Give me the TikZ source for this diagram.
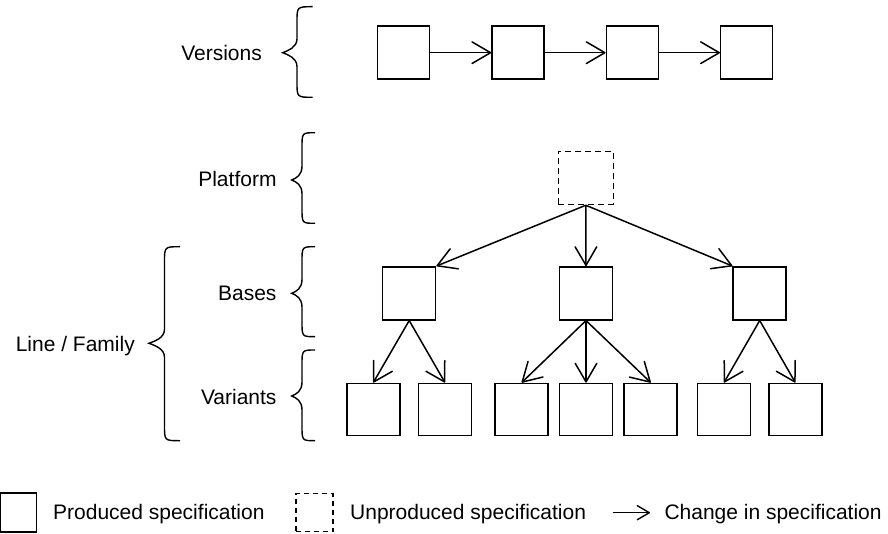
\documentclass[tikz,border=0pt]{standalone}
\usepackage{fontspec}
\setmainfont{Liberation Sans}
\usetikzlibrary{arrows.meta}
\newcommand\mybrc[6]{%
  \draw[brc] (#3,#4) .. controls (#2,#4) .. (#2,#4+15) -- (#2,#5-14)
    .. controls (#2,#5-5) and (#1+5,#5-2) .. (#1,#5)
    .. controls (#1+5,#5+2) and (#2,#5+5) .. (#2,#5+14) -- (#2,#6-15)
    .. controls (#2,#6) .. (#3,#6);}
\pgfdeclarearrow{
  name = bigvee,
  setup code = {
    \pgfarrowssettipend{0.7pt}
    \pgfarrowssetlineend{-0.5pt}
    \pgfarrowssetbackend{-18.5pt}
    \pgfarrowsupperhullpoint{-18.5pt}{10.8pt}
    \pgfarrowsupperhullpoint{0.7pt}{0pt}
  },
  drawing code = {
    \pgfsetdash{}{0pt}
    \pgfsetlinewidth{1.5pt}
    \pgfsetroundjoin
    \pgfsetroundcap
    \pgfpathmoveto{\pgfpoint{-18.5pt}{10.8pt}}
    \pgfpathlineto{\pgfpointorigin}
    \pgfpathlineto{\pgfpoint{-18.5pt}{-10.8pt}}
    \pgfusepathqstroke
  }
}
\pgfdeclarearrow{
  name = smallvee,
  setup code = {
    \pgfarrowssettipend{0.7pt}
    \pgfarrowssetlineend{-0.5pt}
    \pgfarrowssetbackend{-12pt}
    \pgfarrowsupperhullpoint{-12pt}{7pt}
    \pgfarrowsupperhullpoint{0.7pt}{0pt}
  },
  drawing code = {
    \pgfsetdash{}{0pt}
    \pgfsetlinewidth{1.4pt}
    \pgfsetroundjoin
    \pgfsetroundcap
    \pgfpathmoveto{\pgfpoint{-12pt}{7pt}}
    \pgfpathlineto{\pgfpointorigin}
    \pgfpathlineto{\pgfpoint{-12pt}{-7pt}}
    \pgfusepathqstroke
  }
}
\begin{document}
\begin{tikzpicture}[x=1pt,y=-1pt,
  spec/.style={draw, line width=1.5pt, minimum width=53pt, minimum height=53pt, inner sep=0pt},
  unspec/.style={spec, dash pattern=on 6pt off 4pt},
  chg/.style={line width=1.5pt, -bigvee},
  legchg/.style={line width=1.4pt, -smallvee},
  lbl/.style={inner sep=0pt, anchor=base east, font=\fontsize{21}{25}\selectfont},
  leg/.style={inner sep=0pt, anchor=base west, font=\fontsize{21}{25}\selectfont},
  brc/.style={line width=1.4pt}]
\useasboundingbox (0,0) rectangle (888,534);

% Versions
\node[spec, minimum width=52pt] (ve1) at (403.3,52.7) {};
\node[spec, minimum width=52pt] (ve2) at (518,52.7) {};
\node[spec, minimum width=52pt] (ve3) at (632.3,52.7) {};
\node[spec, minimum width=52pt] (ve4) at (746.7,52.7) {};
\draw[chg] (ve1.east) -- (ve2.west);
\draw[chg] (ve2.east) -- (ve3.west);
\draw[chg] (ve3.east) -- (ve4.west);

% Platform
\node[unspec, minimum width=55pt] (pf) at (585.8,178) {};

% Bases
\node[spec] (b1) at (409.2,293.3) {};
\node[spec] (b2) at (586,293.3) {};
\node[spec] (b3) at (759.7,293.3) {};
\draw[chg] (pf.south) -- (b1.north east);
\draw[chg] (pf.south) -- (b2.north);
\draw[chg] (pf.south) -- (b3.north west);

% Variants
\node[spec, minimum height=52pt] (v1) at (373.3,409.3) {};
\node[spec, minimum height=52pt] (v2) at (445,409.3) {};
\node[spec, minimum height=52pt] (v3) at (521.7,409.3) {};
\node[spec, minimum height=52pt] (v4) at (586,409.3) {};
\node[spec, minimum height=52pt] (v5) at (650.7,409.3) {};
\node[spec, minimum height=52pt] (v6) at (724,409.3) {};
\node[spec, minimum height=52pt] (v7) at (795.3,409.3) {};
\draw[chg] (b1.south) -- (v1.north);
\draw[chg] (b1.south) -- (v2.north);
\draw[chg] (b2.south) -- (v3.north);
\draw[chg] (b2.south) -- (v4.north);
\draw[chg] (b2.south) -- (v5.north);
\draw[chg] (b3.south) -- (v6.north);
\draw[chg] (b3.south) -- (v7.north);

% Labels and braces
\node[lbl] (lver) at (262,61) {Versions};
\node[lbl] (lpf) at (276.7,186.7) {Platform};
\node[lbl] (lbs) at (276.7,301) {Bases};
\node[lbl] (lvar) at (276.7,404) {Variants};
\node[lbl] (lfam) at (135,351) {Line / Family};
\mybrc{282.7}{297}{312.7}{6.7}{52.7}{97.3}
\mybrc{291.7}{302}{315}{132.7}{180}{223.3}
\mybrc{291.7}{302}{315}{246.7}{293.3}{336.7}
\mybrc{291.7}{302}{315}{350}{396}{440.7}
\mybrc{149}{164.5}{180}{246.7}{343.3}{440.7}

% Legend
\node[spec, minimum width=36pt, minimum height=39pt] (lgp) at (18.3,512.3) {};
\node[leg] (lgpt) at (53,519.5) {Produced specification};
\node[unspec, minimum width=37pt, minimum height=38pt, dash pattern=on 5pt off 4pt] (lgu) at (314.7,512.5) {};
\node[leg] (lgut) at (350,519.5) {Unproduced specification};
\coordinate (lga) at (612.7,512.7);
\coordinate (lgb) at (650,512.7);
\draw[legchg] (lga) -- (lgb);
\node[leg] (lgct) at (664.3,519.5) {Change in specification};
\end{tikzpicture}
\end{document}
